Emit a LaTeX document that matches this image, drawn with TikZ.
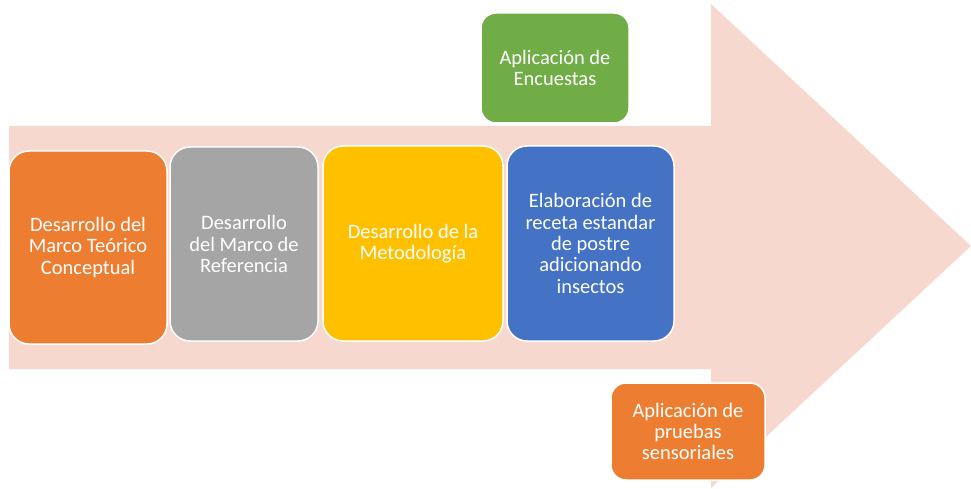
\documentclass[tikz,border=0pt]{standalone}
\usepackage{fontspec}
\setmainfont{Carlito}
\definecolor{arrowpink}{HTML}{F7D8CE}
\definecolor{corange}{HTML}{ED7D31}
\definecolor{cgray}{HTML}{A5A5A5}
\definecolor{cyellow}{HTML}{FFC000}
\definecolor{cblue}{HTML}{4472C4}
\definecolor{cgreen}{HTML}{70AD47}
\begin{document}
\begin{tikzpicture}[x=1pt,y=-1pt,
  box/.style={draw=white, line width=1.5pt, rounded corners=20pt, align=center,
    text=white, font=\fontsize{20.5}{21.4}\selectfont, inner sep=0pt},
  sbox/.style={box, rounded corners=15pt}]
\useasboundingbox (0,0) rectangle (971,489);
\fill[arrowpink] (9,126) -- (711,126) -- (711,4) -- (971,246) -- (711,488) -- (711,369) -- (9,369) -- cycle;
\node[box, fill=corange, minimum width=158pt, minimum height=193pt] (b1) at (88,247.5)
  {Desarrollo del\\Marco Teórico\\Conceptual};
\node[box, fill=cgray, minimum width=148pt, minimum height=194pt] (b2) at (244,244)
  {Desarrollo\\del Marco de\\Referencia};
\node[box, fill=cyellow, minimum width=180pt, minimum height=195pt] (b3) at (413,243.5)
  {Desarrollo de la\\Metodología};
\node[box, fill=cblue, minimum width=167pt, minimum height=195pt] (b4) at (590.5,243.5)
  {Elaboración de\\receta estandar\\de postre\\adicionando\\insectos};
\node[sbox, fill=cgreen, minimum width=148pt, minimum height=110pt] (b5) at (555,68)
  {Aplicación de\\Encuestas};
\node[sbox, fill=corange, minimum width=154pt, minimum height=97pt] (b6) at (688,431.5)
  {Aplicación de\\pruebas\\sensoriales};
\end{tikzpicture}
\end{document}
